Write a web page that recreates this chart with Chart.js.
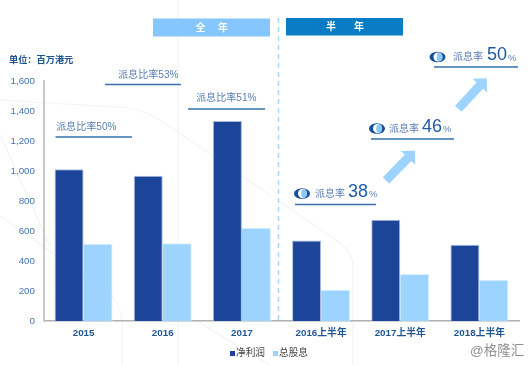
<!DOCTYPE html>
<html><head><meta charset="utf-8">
<style>html,body{margin:0;padding:0;background:#fff}#w{position:relative;width:531px;height:365px}canvas{display:block}</style>
<script src="https://cdn.jsdelivr.net/npm/chart.js@4"></script></head>
<body><div id="w"><canvas id="c" width="531" height="365"></canvas></div>
<script>
const categories=['2015','2016','2017','2016上半年','2017上半年','2018上半年'];
const netProfit=[1012,969,1333,537,675,509];
const dividends=[515,519,622,209,313,275];
const seriesNames=['净利润','总股息'];
const fullYearNotes=['派息比率50%','派息比率53%','派息比率51%'];
const halfNotes=['38','46','50'];
const F='"Liberation Sans","Noto Sans CJK SC",sans-serif';

const deco={id:'deco',
 beforeDraw(ch){const g=ch.ctx;g.save();
  g.strokeStyle='#f3f4f7';g.lineWidth=1.2;
  g.beginPath();g.moveTo(178,0);g.lineTo(178,365);g.stroke();
  g.beginPath();g.moveTo(0,100);g.lineTo(130,108);g.quadraticCurveTo(145,111,160,120);g.lineTo(270,195);g.stroke();
  g.beginPath();g.moveTo(0,135);g.lineTo(50,246);g.stroke();
  g.beginPath();g.moveTo(0,216);g.lineTo(105,290);g.quadraticCurveTo(122,302,122,325);g.lineTo(122,365);g.stroke();
  g.beginPath();g.moveTo(195,320);g.lineTo(270,365);g.stroke();
  g.beginPath();g.moveTo(279,201);g.lineTo(340,243);g.quadraticCurveTo(353,253,353,265);g.lineTo(353,365);g.stroke();
  g.restore();},
 afterDraw(ch){const g=ch.ctx;g.save();
  g.fillStyle='#85c6ff';g.fillRect(153,18.5,117,18);
  g.fillStyle='#0a7cc4';g.fillRect(286,18,117,17.5);
  g.textBaseline='middle';g.textAlign='center';
  g.fillStyle='#fff';g.font='bold 10px '+F;
  g.fillText('全',200.5,28);g.fillText('年',223,28);
  g.fillText('半',331,27.5);g.fillText('年',359,27.5);
  g.strokeStyle='#a8d8fa';g.lineWidth=1.5;g.setLineDash([5,4]);
  g.beginPath();g.moveTo(278.5,18);g.lineTo(278.5,320);g.stroke();g.setLineDash([]);
  g.textAlign='left';g.fillStyle='#1c5590';g.font='bold 9.2px '+F;
  g.fillText('单位：百万港元',9,60);
  // full-year notes
  const fy=[[56,127,55.5,132,137],[118,75,105,181,84.5],[196,98.5,188,265,109]];
  fy.forEach((a,i)=>{g.fillStyle='#5c80b4';g.font='10.1px '+F;g.fillText(fullYearNotes[i],a[0],a[1]);
    g.strokeStyle='#3572ae';g.lineWidth=1.5;g.beginPath();g.moveTo(a[2],a[4]);g.lineTo(a[3],a[4]);g.stroke();});
  // half-year notes
  const hy=[[302,193.5,315,348,295,376,204.5],[377,128.5,389,422,371,454,139],[437.5,57,453,487,434,518,67]];
  hy.forEach((a,i)=>{
    g.fillStyle='#15509c';g.beginPath();g.ellipse(a[0],a[1],8,5.3,0,0,Math.PI*2);g.fill();
    g.fillStyle='#fff';g.beginPath();g.ellipse(a[0]+0.5,a[1],4.5,4.5,0,0,Math.PI*2);g.fill();
    g.fillStyle='#8ec8f5';g.beginPath();g.ellipse(a[0]+2,a[1],2.8,4.3,0,0,Math.PI*2);g.fill();
    g.fillStyle='#5c80b4';g.font='10px '+F;g.fillText('派息率',a[2],a[1]+0.5);
    g.fillStyle='#1f5aa5';g.font='18px '+F;g.fillText(halfNotes[i],a[3],a[1]-1.5);
    const w=g.measureText(halfNotes[i]).width;
    g.fillStyle='#5c80b4';g.font='9.5px '+F;g.fillText('%',a[3]+w+1,a[1]+1);
    g.strokeStyle='#3572ae';g.lineWidth=1.5;g.beginPath();g.moveTo(a[4],a[6]);g.lineTo(a[5],a[6]);g.stroke();
  });
  // arrows
  [[386,180.5,415,150.7],[458.3,108.7,486.7,78.3]].forEach(a=>{
    const ang=Math.atan2(a[3]-a[1],a[2]-a[0]),L=Math.hypot(a[2]-a[0],a[3]-a[1]);
    g.save();g.translate(a[0],a[1]);g.rotate(ang);g.fillStyle='#9dd4ff';
    g.beginPath();g.moveTo(0,-4.5);g.lineTo(L-10,-4.5);g.lineTo(L-10,-10);g.lineTo(L,0);g.lineTo(L-10,10);g.lineTo(L-10,4.5);g.lineTo(0,4.5);g.closePath();g.fill();
    g.restore();});
  // legend
  const ds=ch.data.datasets;const lx=[230,273];
  g.font='9.7px '+F;
  ds.forEach((d,i)=>{g.fillStyle=d.backgroundColor;g.fillRect(lx[i],351,5,5);
    g.fillStyle='#444';g.fillText(d.label,lx[i]+6,353.5);});
  g.fillStyle='#8e8e8e';g.font='13.5px '+F;g.fillText('@格隆汇',470,351.5);
  g.restore();}
};

new Chart(document.getElementById('c'),{type:'bar',
 data:{labels:categories,datasets:[
  {label:seriesNames[0],data:netProfit,backgroundColor:'#1c4498',borderColor:'#a9bbdc',borderWidth:{top:1,right:1,left:1,bottom:0}},
  {label:seriesNames[1],data:dividends,backgroundColor:'#9dd4ff',borderColor:'#dcf0ff',borderWidth:{top:1,right:1,left:0,bottom:0}}]},
 plugins:[deco],
 options:{responsive:false,animation:false,
  layout:{padding:{left:0,right:12,top:81,bottom:0}},
  datasets:{bar:{categoryPercentage:0.733,barPercentage:1}},
  plugins:{tooltip:{enabled:false},title:{display:false},legend:{display:false}},
  scales:{
   x:{grid:{display:false,drawTicks:false},border:{color:'#b0b0b0',width:1.5},
      afterFit(s){s.height=44;},
      ticks:{color:'#1f5596',padding:6.5,maxRotation:0,autoSkip:false,font:{family:F,size:9.8,weight:'bold'}}},
   y:{min:0,max:1600,grid:{display:false,drawTicks:false},border:{color:'#c8c8c8',width:2},
      afterFit(s){s.width=44;},
      ticks:{stepSize:200,color:'#4574b2',padding:9,font:{family:F,size:9.8},
        callback:v=>v.toLocaleString('en-US')}}}
 }});
</script></body></html>
